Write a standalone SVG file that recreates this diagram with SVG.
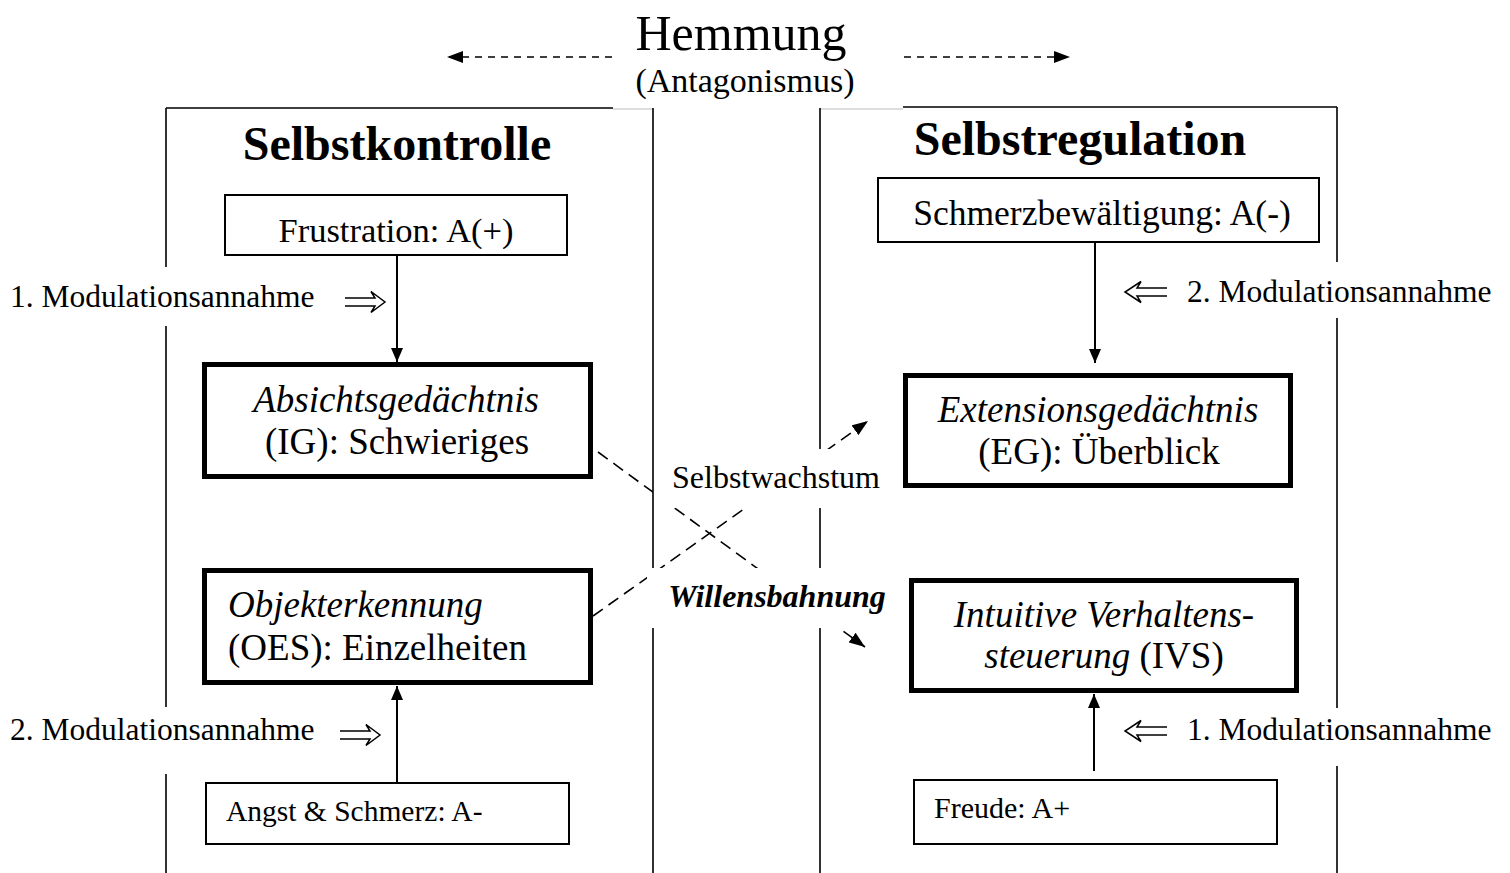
<svg xmlns="http://www.w3.org/2000/svg" width="1510" height="873" viewBox="0 0 1510 873">
<style>
text{font-family:"Liberation Serif","Times New Roman",serif;fill:#000}
.panel{stroke:#000;stroke-width:1.6;fill:none}
.faint{stroke:#bbb;stroke-width:1;fill:none}
.thin{fill:#fff;stroke:#000;stroke-width:2}
.thick{fill:#fff;stroke:#000;stroke-width:5}
.solid{stroke:#000;stroke-width:2;fill:none}
.dash{stroke:#000;stroke-width:1.6;fill:none;stroke-dasharray:12 7}
.dashtop{stroke:#000;stroke-width:1.6;fill:none;stroke-dasharray:7 6}
.hollow{stroke:#000;stroke-width:1.5;fill:none;stroke-linejoin:miter}
.lbl{fill:#fff;stroke:none}
.it{font-style:italic}
.b{font-weight:bold}
.mid{text-anchor:middle}
</style>
<defs>
<marker id="ah" viewBox="0 0 14 12" refX="14" refY="6" markerWidth="14" markerHeight="12" orient="auto" markerUnits="userSpaceOnUse"><path d="M0,0 L14,6 L0,12 z" fill="#000" stroke="none"/></marker>
<marker id="ahd" viewBox="0 0 16 12" refX="16" refY="6" markerWidth="16" markerHeight="12" orient="auto" markerUnits="userSpaceOnUse"><path d="M0,0 L16,6 L0,12 z" fill="#000" stroke="none"/></marker>
</defs>
<rect width="1510" height="873" fill="#fff"/>

<g id="connectors">
<line class="dashtop" x1="612" y1="57" x2="447" y2="57" marker-end="url(#ahd)"/>
<line class="dashtop" x1="904" y1="57" x2="1070" y2="57" marker-end="url(#ahd)"/>
<line class="solid" x1="397" y1="256" x2="397" y2="362" marker-end="url(#ah)"/>
<line class="solid" x1="1095" y1="243" x2="1095" y2="363" marker-end="url(#ah)"/>
<line class="solid" x1="397" y1="783" x2="397" y2="686" marker-end="url(#ah)"/>
<line class="solid" x1="1094" y1="771" x2="1094" y2="694" marker-end="url(#ah)"/>
<line class="dash" x1="598" y1="452" x2="865" y2="647" marker-end="url(#ahd)"/>
<line class="dash" x1="593" y1="616" x2="868" y2="421" marker-end="url(#ahd)"/>
<path class="hollow" d="M345,298 H375 L371,291.5 L385,302 L371,312.5 L375,306 H345"/>
<path class="hollow" d="M340,731 H370 L366,724.5 L380,735 L366,745.5 L370,739 H340"/>
<path class="hollow" d="M1167,288 H1137 L1141,281.5 L1125,292 L1141,302.5 L1137,296 H1167"/>
<path class="hollow" d="M1167,727 H1137 L1141,720.5 L1125,731 L1141,741.5 L1137,735 H1167"/>
</g>

<g id="label-boxes">
<rect class="lbl" x="653" y="449" width="239" height="59"/>
<rect class="lbl" x="647" y="568" width="250" height="60"/>
</g>

<g id="panels">
<path class="faint" d="M613,109 H653 M820,109 H903"/>
<path class="panel" d="M166,108 V267 M166,326 V707 M166,774 V873 M166,108 H613 M653,108 V568 M653,628 V873"/>
<path class="panel" d="M820,108 V449 M820,508 V568 M820,628 V873 M903,107 H1337 M1337,107 V262 M1337,318 V708 M1337,766 V873"/>
</g>

<g id="title">
<text x="741" y="50" class="mid" font-size="50">Hemmung</text>
<text x="745" y="92" class="mid" font-size="34">(Antagonismus)</text>
</g>

<g id="selbstkontrolle">
<text x="397" y="160" class="mid b" font-size="48">Selbstkontrolle</text>
</g>
<g id="selbstregulation">
<text x="1080" y="155" class="mid b" font-size="48">Selbstregulation</text>
</g>

<g id="frustration">
<rect class="thin" x="225" y="195" width="342" height="60"/>
<text x="396" y="242" class="mid" font-size="34.5">Frustration: A(+)</text>
</g>

<g id="absicht">
<rect class="thick" x="204.5" y="364.5" width="386" height="112"/>
<text x="396" y="412" class="mid it" font-size="37">Absichtsgedächtnis</text>
<text x="397" y="454" class="mid" font-size="37">(IG): Schwieriges</text>
</g>

<g id="objekt">
<rect class="thick" x="204.5" y="570.5" width="386" height="112"/>
<text x="228" y="617" class="it" font-size="37">Objekterkennung</text>
<text x="228" y="660" font-size="37">(OES): Einzelheiten</text>
</g>

<g id="angst">
<rect class="thin" x="206" y="783" width="363" height="61"/>
<text x="226" y="821" font-size="29.5">Angst &amp; Schmerz: A-</text>
</g>

<g id="schmerz">
<rect class="thin" x="878" y="178" width="441" height="64"/>
<text x="1102" y="225" class="mid" font-size="35.5">Schmerzbewältigung: A(-)</text>
</g>

<g id="extension">
<rect class="thick" x="905.5" y="375.5" width="385" height="110"/>
<text x="1098" y="422" class="mid it" font-size="37">Extensionsgedächtnis</text>
<text x="1099" y="464" class="mid" font-size="37">(EG): Überblick</text>
</g>

<g id="intuitive">
<rect class="thick" x="911.5" y="580.5" width="385" height="110"/>
<text x="1104" y="627" class="mid it" font-size="37">Intuitive Verhaltens-</text>
<text x="1104" y="668" class="mid" font-size="37"><tspan class="it">steuerung</tspan> (IVS)</text>
</g>

<g id="freude">
<rect class="thin" x="914" y="780" width="363" height="64"/>
<text x="934" y="818" font-size="30">Freude: A+</text>
</g>

<g id="labels">
<text x="10" y="307" font-size="31.5">1. Modulationsannahme</text>
<text x="10" y="740" font-size="31.5">2. Modulationsannahme</text>
<text x="1187" y="302" font-size="31.5">2. Modulationsannahme</text>
<text x="1187" y="740" font-size="31.5">1. Modulationsannahme</text>
<text x="776" y="488" class="mid" font-size="32">Selbstwachstum</text>
<text x="777" y="607" class="mid b it" font-size="32">Willensbahnung</text>
</g>
</svg>
